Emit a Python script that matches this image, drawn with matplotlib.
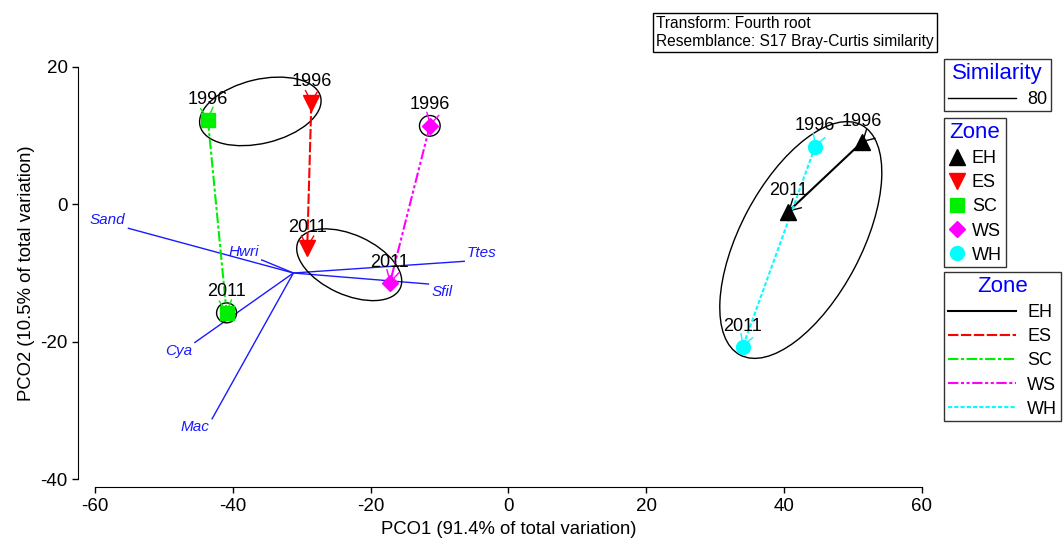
"""
PCO ordination with trajectories 1996 -> 2011 per zone,
80% similarity contours and vector overlay.
"""

import numpy as np
import matplotlib
matplotlib.use("Agg")
import matplotlib.pyplot as plt
from matplotlib.lines import Line2D
from matplotlib.patches import Ellipse

plt.rcParams["font.family"] = ["Liberation Sans", "DejaVu Sans"]
plt.rcParams["axes.unicode_minus"] = False

# ---------------------------------------------------------------------------
# Data
# ---------------------------------------------------------------------------
ZONES   = ["EH", "ES", "SC", "WS", "WH"]
PCO1_96 = [51.3, -28.6, -43.6, -11.4, 44.5]
PCO2_96 = [9.0, 14.7, 12.2, 11.4, 8.3]
PCO1_11 = [40.6, -29.2, -40.9, -17.2, 34.0]
PCO2_11 = [-1.1, -6.4, -15.8, -11.5, -20.8]
YEARS   = ["1996", "2011"]

# 80 % similarity contours : centre x, centre y, width, height, angle
SIM_X     = [-36.0, -23.1, 42.45, -11.4, -40.9]
SIM_Y     = [13.5, -8.8, -5.2, 11.4, -15.8]
SIM_W     = [18.0, 16.3, 37.8, 3.0, 2.9]
SIM_H     = [9.3, 8.7, 17.6, 3.0, 2.9]
SIM_ANGLE = [13.5, -24.7, 62.2, 0.0, 0.0]

# vector overlay
VEC_NAMES  = ["Sand", "Hwri", "Cya", "Mac", "Ttes", "Sfil"]
VEC_ORIGIN = (-31.2, -10.0)
VEC_X      = [-55.15, -35.8, -45.5, -43.0, -6.4, -11.6]
VEC_Y      = [-3.5, -8.1, -20.1, -31.2, -8.3, -11.6]

XTICKS = [-60, -40, -20, 0, 20, 40, 60]
YTICKS = [-40, -20, 0, 20]

# styles
COLORS  = {"EH": "black", "ES": "#ff0000", "SC": "#00ee00", "WS": "#ff00ff", "WH": "#00ffff"}
MARKERS = {"EH": ("^", 12), "ES": ("v", 12), "SC": ("s", 10), "WS": ("D", 8), "WH": ("o", 10)}
LSTYLES = {"EH": "-",
           "ES": (0, (5, 1.2)),
           "SC": (0, (5, 1.2, 1.5, 1.2)),
           "WS": (0, (5, 1.2, 1.5, 1.2, 1.5, 1.2)),
           "WH": (0, (2, 1))}
VEC_COLOR = "#1a1aff"


def arrow_head(ax, p_from, p_to, at, color):
    """Petite tête de flèche ouverte pointant dans le sens de la trajectoire."""
    d = np.array(p_to) - np.array(p_from)
    d = d / np.hypot(*d)
    start = np.array(at) - d * 0.05
    ax.annotate("", xy=at, xytext=start,
                arrowprops=dict(arrowstyle="->,head_length=0.8,head_width=0.45",
                                color=color, lw=1, shrinkA=0, shrinkB=0,
                                mutation_scale=10),
                zorder=3)


def main() -> None:
    fig = plt.figure(figsize=(10.63, 5.40), dpi=100)
    ax = fig.add_axes([95 / 1063, 60.7 / 540, 826.7 / 1063, 412.6 / 540])

    # vectors
    for name, vx, vy in zip(VEC_NAMES, VEC_X, VEC_Y):
        ax.plot([VEC_ORIGIN[0], vx], [VEC_ORIGIN[1], vy], color=VEC_COLOR, lw=1, zorder=1)
        dx, dy = vx - VEC_ORIGIN[0], vy - VEC_ORIGIN[1]
        ax.annotate(name, xy=(vx, vy),
                    xytext=(2 if dx > 0 else -2, 1 if dy > 0 else -1),
                    textcoords="offset points",
                    ha="left" if dx > 0 else "right",
                    va="bottom" if dy > 0 else "top",
                    fontsize=11, style="italic", color=VEC_COLOR)

    # similarity contours
    for cx, cy, w, h, a in zip(SIM_X, SIM_Y, SIM_W, SIM_H, SIM_ANGLE):
        ax.add_patch(Ellipse((cx, cy), w, h, angle=a, fill=False,
                             edgecolor="black", lw=1, zorder=2))

    # trajectories
    for i, z in enumerate(ZONES):
        p96 = (PCO1_96[i], PCO2_96[i])
        p11 = (PCO1_11[i], PCO2_11[i])
        c = COLORS[z]
        ax.plot([p96[0], p11[0]], [p96[1], p11[1]], color=c,
                linestyle=LSTYLES[z], lw=1.5, zorder=3)
        arrow_head(ax, p96, p11, p96, c)
        arrow_head(ax, p96, p11, p11, c)
        m, ms = MARKERS[z]
        ax.plot([p96[0], p11[0]], [p96[1], p11[1]], linestyle="none",
                marker=m, markersize=ms, color=c, zorder=4)
        for p, yr in zip((p96, p11), YEARS):
            ax.annotate(yr, xy=p, xytext=(0, 12), textcoords="offset points",
                        ha="center", va="baseline", fontsize=13, zorder=5)

    # axes
    ax.set_xlim(-60, 60)
    ax.set_ylim(-40, 20)
    ax.set_xticks(XTICKS)
    ax.set_yticks(YTICKS)
    for s in ("top", "right"):
        ax.spines[s].set_visible(False)
    ax.spines["left"].set_position(("outward", 12.2))
    ax.spines["bottom"].set_position(("outward", 5.8))
    ax.spines["left"].set_bounds(-40, 20)
    ax.spines["bottom"].set_bounds(-60, 60)
    ax.tick_params(labelsize=13.5, length=4.3, width=1, direction="out", pad=3.2)
    ax.set_xlabel("PCO1 (91.4% of total variation)", fontsize=13.3)
    ax.set_ylabel("PCO2 (10.5% of total variation)", fontsize=13.3)
    ax.xaxis.set_label_coords(0.5, -0.1)
    ax.yaxis.set_label_coords(-0.073, 0.5)

    # info box
    fig.text(656 / 1063, 1 - 16 / 540,
             "Transform: Fourth root\nResemblance: S17 Bray-Curtis similarity",
             ha="left", va="top", fontsize=11.2, linespacing=1.25,
             bbox=dict(boxstyle="square,pad=0.22", fc="white", ec="black", lw=1))

    # legends
    common = dict(loc="upper left", fontsize=13, title_fontsize=16,
                  fancybox=False, framealpha=1, borderaxespad=0,
                  borderpad=0.2, labelspacing=0.4)

    leg1 = fig.legend(handles=[Line2D([], [], color="black", lw=1)], labels=["80"],
                      title="Similarity", bbox_to_anchor=(944 / 1063, 1 - 59 / 540),
                      handlelength=3.8, handletextpad=0.6, **common)

    mk = [Line2D([], [], linestyle="none", marker=MARKERS[z][0],
                 markersize=MARKERS[z][1], color=COLORS[z]) for z in ZONES]
    leg2 = fig.legend(handles=mk, labels=ZONES, title="Zone",
                      bbox_to_anchor=(944 / 1063, 1 - 118 / 540),
                      handlelength=1.0, handletextpad=0.35, **common)

    ln = [Line2D([], [], color=COLORS[z], linestyle=LSTYLES[z], lw=1.5) for z in ZONES]
    leg3 = fig.legend(handles=ln, labels=ZONES, title="Zone",
                      bbox_to_anchor=(944 / 1063, 1 - 272 / 540),
                      handlelength=3.8, handletextpad=0.6, **common)

    for leg in (leg1, leg2, leg3):
        leg.get_title().set_color("#0000ff")
        leg.get_frame().set_edgecolor("#333333")
        leg.get_frame().set_linewidth(1)

    fig.savefig("out.png", dpi=100)
    plt.close(fig)


if __name__ == "__main__":
    main()
